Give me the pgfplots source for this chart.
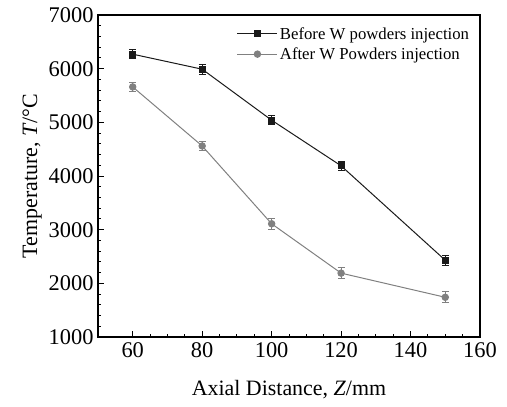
\documentclass[border=0pt]{standalone}
\usepackage{fontspec}
\setmainfont{Liberation Serif}
\usepackage{pgfplots}
\usepackage{pgfplotstable}
\pgfplotsset{compat=1.18}
\definecolor{beforec}{HTML}{1A1A1A}
\definecolor{afterc}{HTML}{808080}

% axial distance (mm), temperature (C), error
\pgfplotstableread{
z T err
60 6270 80
80 5990 90
100 5040 80
120 4190 80
150 2430 90
}\beforetab

\pgfplotstableread{
z T err
60 5660 80
80 4560 90
100 3110 100
120 2190 100
150 1740 100
}\aftertab

\begin{document}
\begin{tikzpicture}
\begin{axis}[
  name=ax, at={(0,0)}, anchor=south west,
  scale only axis, width=382bp, height=322bp,
  xmin=50, xmax=160, ymin=1000, ymax=7000,
  xtick={60,80,...,160}, ytick={1000,2000,...,7000},
  minor x tick num=3, minor y tick num=4,
  tick align=inside, xtick pos=bottom, ytick pos=left,
  major tick length=6bp, minor tick length=3.5bp,
  axis line style={line width=1.2bp},
  tick style={line width=0.9bp, black},
  /pgf/number format/assume math mode=true,
  /pgf/number format/1000 sep={},
  tick label style={font=\fontsize{22.5}{26}\selectfont},
  xticklabel style={yshift=-2bp},
  yticklabel style={xshift=-1bp},
  label style={font=\fontsize{22}{26}\selectfont},
  xlabel style={yshift=-16bp},
  ylabel style={yshift=0bp},
  xlabel={Axial Distance, \textit{Z}/mm},
  ylabel={Temperature, \textit{T}/°C},
  legend style={at={(0.985,0.975)}, anchor=north east, draw=none, fill=none,
    font=\fontsize{16.8}{19}\selectfont, row sep=3bp},
  legend cell align=left,
  legend image code/.code={\draw[mark repeat=2, mark phase=2]
    plot coordinates {(0bp,0bp) (20bp,0bp) (40bp,0bp)};},
]
\addplot+[beforec, line width=1bp, mark=square*, mark size=3bp,
  mark options={solid, fill=beforec},
  error bars/.cd, y dir=both, y explicit,
  error bar style={line width=1bp, beforec},
  error mark options={rotate=90, mark size=3.5bp, line width=1bp, beforec}]
  table[x=z, y=T, y error=err] {\beforetab};
\addlegendentry{Before W powders injection}
\addplot+[afterc, line width=1bp, mark=*, mark size=3.2bp,
  mark options={solid, fill=afterc},
  error bars/.cd, y dir=both, y explicit,
  error bar style={line width=1bp, afterc},
  error mark options={rotate=90, mark size=3.5bp, line width=1bp, afterc}]
  table[x=z, y=T, y error=err] {\aftertab};
\addlegendentry{After W Powders injection}
\end{axis}
\pgfresetboundingbox
\useasboundingbox (-98bp,-70bp) rectangle (409bp,337bp);
\end{tikzpicture}
\end{document}
